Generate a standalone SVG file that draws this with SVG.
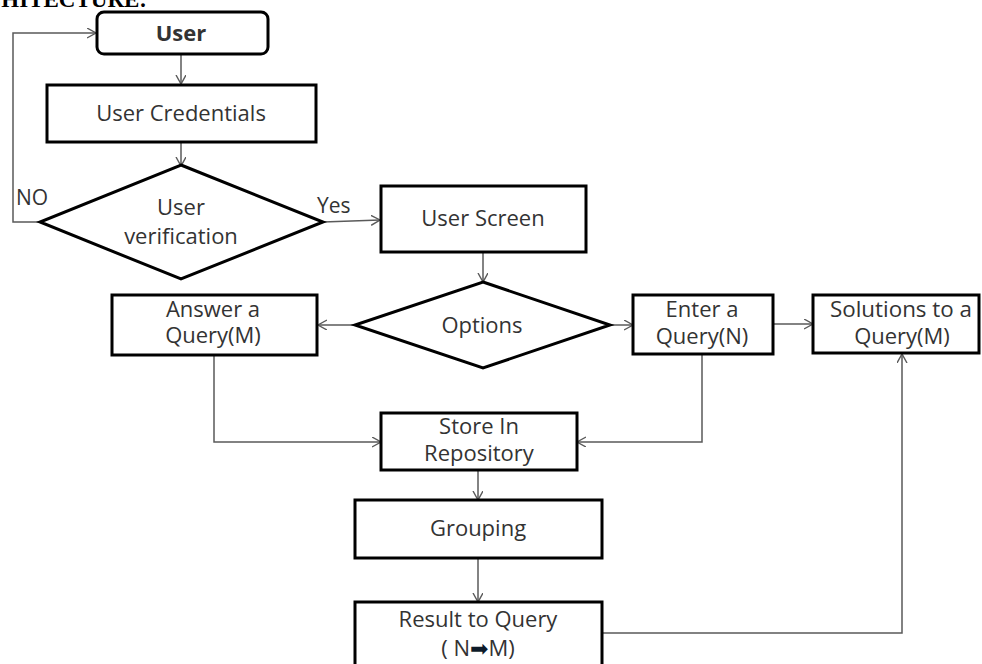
<svg xmlns="http://www.w3.org/2000/svg" width="982" height="664" viewBox="0 0 982 664">
  <style>
    .box { fill: #ffffff; stroke: #000000; stroke-width: 3; }
    .lbl { font-family: "Open Sans", Lato, "Liberation Sans", sans-serif; font-size: 22px; fill: #333333; text-anchor: middle; }
    .side { font-family: "Open Sans", Lato, "Liberation Sans", sans-serif; font-size: 21px; fill: #333333; }
    .wire { fill: none; stroke: #5a5a5a; stroke-width: 1.5; }
  </style>
  <defs>
    <marker id="arr" markerUnits="userSpaceOnUse" markerWidth="12" markerHeight="12" refX="9" refY="5" orient="auto" viewBox="0 0 12 12">
      <path d="M0,0 L9,5 L0,10" fill="none" stroke="#5a5a5a" stroke-width="1.4"/>
    </marker>
  </defs>
  <rect width="982" height="664" fill="#ffffff"/>

  <!-- heading, partly above the top edge -->
  <text x="147" y="7" text-anchor="end" font-family="'Liberation Serif', serif" font-weight="bold" font-size="23" fill="#000000">ARCHITECTURE:</text>

  <g id="connectors">
    <line class="wire" x1="181" y1="54" x2="181" y2="84" marker-end="url(#arr)"/>
    <line class="wire" x1="181" y1="142" x2="181" y2="166" marker-end="url(#arr)"/>
    <polyline class="wire" points="40,222 13,222 13,33 96,33" marker-end="url(#arr)"/>
    <line class="wire" x1="323" y1="222" x2="380" y2="220" marker-end="url(#arr)"/>
    <line class="wire" x1="483" y1="252" x2="483" y2="282" marker-end="url(#arr)"/>
    <line class="wire" x1="355" y1="325" x2="318" y2="325" marker-end="url(#arr)"/>
    <line class="wire" x1="610" y1="325" x2="633" y2="325" marker-end="url(#arr)"/>
    <line class="wire" x1="773" y1="324" x2="813" y2="324" marker-end="url(#arr)"/>
    <polyline class="wire" points="214,355 214,442 381,442" marker-end="url(#arr)"/>
    <polyline class="wire" points="702,354 702,442 577,442" marker-end="url(#arr)"/>
    <line class="wire" x1="478" y1="470" x2="478" y2="500" marker-end="url(#arr)"/>
    <line class="wire" x1="478" y1="558" x2="478" y2="602" marker-end="url(#arr)"/>
    <polyline class="wire" points="602,633 902,633 902,354" marker-end="url(#arr)"/>
    <text class="side" x="16" y="205">NO</text>
    <text class="side" x="317" y="213">Yes</text>
  </g>

  <g id="user">
    <rect class="box" x="97" y="12" width="171" height="42" rx="7"/>
    <text class="lbl" x="181" y="41" font-weight="bold" fill="#000000" font-size="21">User</text>
  </g>

  <g id="user-credentials">
    <rect class="box" x="47" y="85" width="269" height="57"/>
    <text class="lbl" x="181" y="121">User Credentials</text>
  </g>

  <g id="user-verification">
    <polygon class="box" points="181,165 323,222 181,279 40,222"/>
    <text class="lbl" x="181" y="215">User</text>
    <text class="lbl" x="181" y="244">verification</text>
  </g>

  <g id="user-screen">
    <rect class="box" x="381" y="186" width="205" height="66"/>
    <text class="lbl" x="483" y="226">User Screen</text>
  </g>

  <g id="options">
    <polygon class="box" points="483,282 610,325 483,368 355,325"/>
    <text class="lbl" x="482" y="333">Options</text>
  </g>

  <g id="answer-query">
    <rect class="box" x="112" y="295" width="205" height="60"/>
    <text class="lbl" x="213" y="317">Answer a</text>
    <text class="lbl" x="213" y="343">Query(M)</text>
  </g>

  <g id="enter-query">
    <rect class="box" x="633" y="295" width="140" height="59"/>
    <text class="lbl" x="702" y="317">Enter a</text>
    <text class="lbl" x="702" y="344">Query(N)</text>
  </g>

  <g id="solutions">
    <rect class="box" x="813" y="295" width="166" height="58"/>
    <text class="lbl" x="901" y="317" textLength="142" lengthAdjust="spacingAndGlyphs">Solutions to a</text>
    <text class="lbl" x="902" y="344">Query(M)</text>
  </g>

  <g id="store-repository">
    <rect class="box" x="381" y="413" width="196" height="57"/>
    <text class="lbl" x="479" y="434">Store In</text>
    <text class="lbl" x="479" y="461">Repository</text>
  </g>

  <g id="grouping">
    <rect class="box" x="355" y="500" width="247" height="58"/>
    <text class="lbl" x="478" y="536">Grouping</text>
  </g>

  <g id="result">
    <rect class="box" x="355" y="602" width="247" height="80"/>
    <text class="lbl" x="478" y="627">Result to Query</text>
    <text class="lbl" x="478" y="656">( N<tspan font-family="'DejaVu Sans', sans-serif" fill="#0d1b2a">➡</tspan>M)</text>
  </g>
</svg>
